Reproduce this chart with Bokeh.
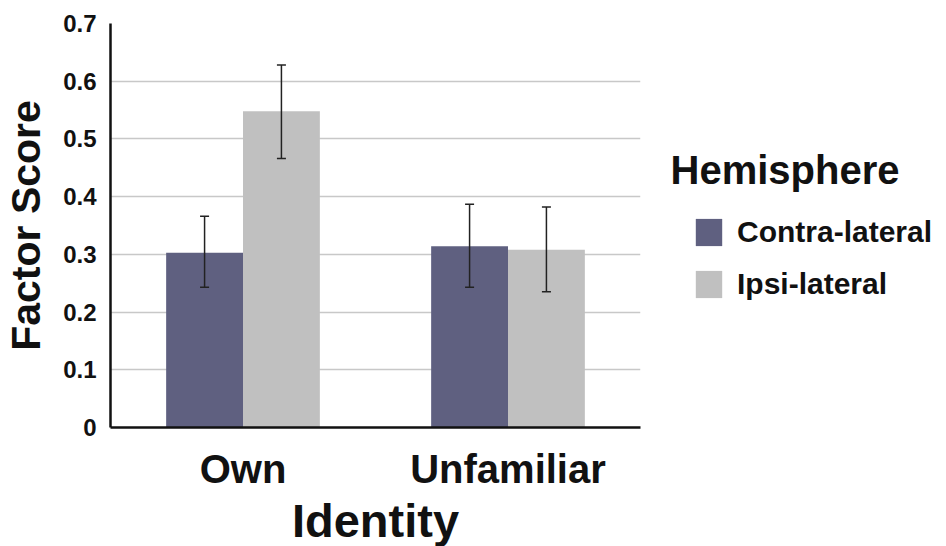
from bokeh.plotting import figure
from bokeh.models import (ColumnDataSource, FactorRange, Legend, LegendItem, Whisker,
                          FixedTicker, Label)
from bokeh.transform import dodge
from bokeh.embed import file_html
from bokeh.resources import INLINE

identity = ["Own", "Unfamiliar"]
series = ["Contra-lateral", "Ipsi-lateral"]
legend_title = "Hemisphere"
contra = [0.303, 0.314]
contra_lo = [0.243, 0.243]
contra_hi = [0.366, 0.387]
ipsi = [0.548, 0.308]
ipsi_lo = [0.466, 0.235]
ipsi_hi = [0.628, 0.382]
y_ticks = [0, 0.1, 0.2, 0.3, 0.4, 0.5, 0.6, 0.7]

FONT = "Liberation Sans"
INK = "#111111"
C_CONTRA = "#5f6080"
C_IPSI = "#c0c0c0"

src = ColumnDataSource(dict(identity=identity, contra=contra, contra_lo=contra_lo,
                            contra_hi=contra_hi, ipsi=ipsi, ipsi_lo=ipsi_lo, ipsi_hi=ipsi_hi))

p = figure(x_range=FactorRange(*identity, range_padding=0), y_range=(0, 0.7),
           frame_width=530, frame_height=404, output_backend="svg", toolbar_location=None,
           min_border_top=23, min_border_left=10, min_border_right=290, min_border_bottom=0)

bw = 0.29
r1 = p.vbar(x=dodge("identity", -bw / 2, range=p.x_range), top="contra", width=bw,
            source=src, fill_color=C_CONTRA, line_color=None)
r2 = p.vbar(x=dodge("identity", bw / 2, range=p.x_range), top="ipsi", width=bw,
            source=src, fill_color=C_IPSI, line_color=None)

for off, lo, hi in [(-bw / 2, "contra_lo", "contra_hi"), (bw / 2, "ipsi_lo", "ipsi_hi")]:
    w = Whisker(base=dodge("identity", off, range=p.x_range), lower=lo, upper=hi, source=src,
                line_color="#222222", line_width=1.5, level="annotation")
    for head in (w.upper_head, w.lower_head):
        head.size = 9
        head.line_color = "#222222"
        head.line_width = 1.5
    p.add_layout(w)

p.outline_line_color = None
p.xgrid.grid_line_color = None
p.ygrid.grid_line_color = "#c8c8c8"
p.ygrid.grid_line_width = 1.5
p.yaxis.ticker = FixedTicker(ticks=y_ticks)

for ax in (p.xaxis[0], p.yaxis[0]):
    ax.axis_line_color = INK
    ax.axis_line_width = 2.5
    ax.major_tick_line_color = None
    ax.minor_tick_line_color = None
    ax.major_label_text_font = FONT
    ax.major_label_text_font_style = "bold"
    ax.major_label_text_color = INK
    ax.axis_label_text_font = FONT
    ax.axis_label_text_font_style = "bold"
    ax.axis_label_text_color = INK

p.yaxis.axis_label = "Factor Score"
p.yaxis.axis_label_text_font_size = "41px"
p.yaxis.major_label_text_font_size = "24px"
p.yaxis.major_label_standoff = 8
p.yaxis.axis_label_standoff = 11

p.xaxis.axis_label = "Identity"
p.xaxis.axis_label_text_font_size = "47px"
p.xaxis.major_label_text_font_size = "40px"
p.xaxis.major_label_standoff = 13
p.xaxis.axis_label_standoff = 0

legend = Legend(items=[LegendItem(label=series[0], renderers=[r1]),
                       LegendItem(label=series[1], renderers=[r2])],
                location=(52, 126))
legend.label_text_font = FONT
legend.label_text_font_style = "bold"
legend.label_text_font_size = "30px"
legend.label_text_color = INK
legend.glyph_width = 33
legend.glyph_height = 34
legend.label_height = 34
legend.label_standoff = 12
legend.spacing = 18
legend.padding = 0
legend.margin = 0
legend.border_line_color = None
legend.background_fill_color = None
p.add_layout(legend, "right")

title_label = Label(x=-677, y=258, x_units="screen", y_units="screen", text=legend_title,
                    text_font=FONT, text_font_style="bold", text_font_size="40px",
                    text_color=INK, text_baseline="alphabetic", text_align="left")
p.add_layout(title_label, "right")

open("out.html", "w").write(file_html(p, INLINE))
